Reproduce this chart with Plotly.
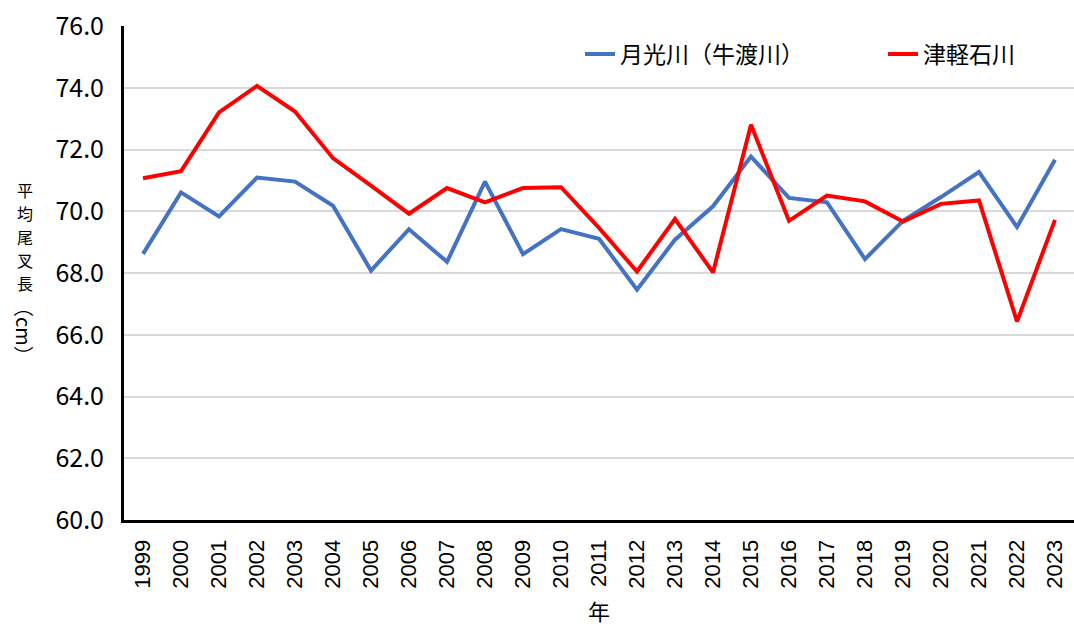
import plotly.graph_objects as go

years = [str(y) for y in range(1999, 2024)]
gakko = [68.62, 70.61, 69.83, 71.09, 70.96, 70.18, 68.08, 69.42, 68.36, 70.96,
         68.61, 69.42, 69.11, 67.46, 69.08, 70.16, 71.77, 70.43, 70.29, 68.45,
         69.69, 70.46, 71.27, 69.49, 71.67]
tsugaru = [71.07, 71.30, 73.20, 74.06, 73.23, 71.72, 70.83, 69.92, 70.75, 70.29,
           70.75, 70.78, 69.46, 68.05, 69.75, 68.02, 72.80, 69.69, 70.51, 70.32,
           69.67, 70.24, 70.35, 66.43, 69.72]
series_names = ["月光川（牛渡川）", "津軽石川"]
y_ticks = [60, 62, 64, 66, 68, 70, 72, 74, 76]
y_ticktext = ["%.1f" % v for v in y_ticks]
y_title_chars = ["平", "均", "尾", "叉", "長"]
y_title_unit = "（cm）"
x_title = "年"

JP = "Noto Sans CJK JP"

W, H = 1074, 626
ML, MT, MB, MR = 124, 26, 106, 0
PW = W - ML - MR
PH = H - MT - MB

def px_x(page_x):
    return (page_x - ML) / PW

def px_y(page_y):
    return (H - MB - page_y) / PH

fig = go.Figure()
fig.add_trace(go.Scatter(x=years, y=gakko, mode="lines", name=series_names[0],
                         line=dict(color="#4472C4", width=4), legend="legend"))
fig.add_trace(go.Scatter(x=years, y=tsugaru, mode="lines", name=series_names[1],
                         line=dict(color="#FF0000", width=4), legend="legend2"))

leg_common = dict(orientation="h", xanchor="left", yanchor="middle",
                  font=dict(family=JP, size=23, color="black"),
                  bgcolor="rgba(0,0,0,0)")

fig.update_layout(
    width=W, height=H,
    margin=dict(l=ML, r=MR, t=MT, b=MB, autoexpand=False),
    paper_bgcolor="white", plot_bgcolor="white",
    font=dict(family=JP, color="black"),
    showlegend=True,
    legend=dict(x=px_x(580), y=px_y(54), **leg_common),
    legend2=dict(x=px_x(883), y=px_y(54), **leg_common),
    xaxis=dict(type="category", range=[-0.5, 24.5], tickangle=-90,
               tickfont=dict(family="Liberation Sans", size=22, color="black"),
               showline=True, linecolor="black", linewidth=3,
               showgrid=False, ticks="outside", ticklen=8, tickcolor="rgba(0,0,0,0)",
               zeroline=False,
               title=dict(text=x_title, font=dict(family=JP, size=22, color="black"), standoff=24)),
    yaxis=dict(range=[60, 76], tickvals=y_ticks, ticktext=y_ticktext,
               tickfont=dict(family=JP, size=25, color="black"),
               ticklabeloverflow="allow",
               showline=True, linecolor="black", linewidth=3,
               showgrid=True, gridcolor="#d9d9d9", gridwidth=1.5,
               ticks="outside", ticklen=12, tickcolor="rgba(0,0,0,0)", zeroline=False),
)

for i, ch in enumerate(y_title_chars):
    fig.add_annotation(text=ch, xref="paper", yref="paper",
                       x=px_x(25), y=px_y(190 + i * 23.3), xanchor="center", yanchor="middle",
                       showarrow=False, font=dict(family=JP, size=16, color="black"))
fig.add_annotation(text=y_title_unit, xref="paper", yref="paper", textangle=90,
                   x=px_x(25), y=px_y(331), xanchor="center", yanchor="middle", showarrow=False,
                   font=dict(family=JP, size=20, color="black"))

fig.write_html("out.html", config={"displayModeBar": False},
               post_script="document.body.style.margin='0';document.body.style.padding='0';")
